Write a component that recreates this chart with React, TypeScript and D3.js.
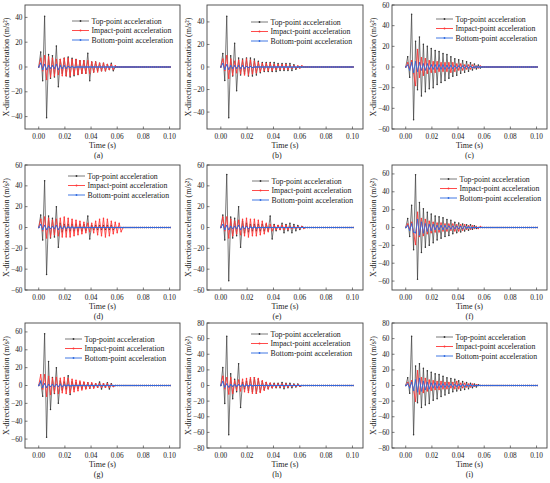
import React from 'react';
import * as d3 from 'd3';

// sample times (s)
const timeS = [
  0, 0.0015, 0.003, 0.0045, 0.006, 0.0075, 0.009, 0.0105, 0.012, 0.0135,
  0.015, 0.0165, 0.018, 0.0195, 0.021, 0.0225, 0.024, 0.0255, 0.027, 0.0285,
  0.03, 0.0315, 0.033, 0.0345, 0.036, 0.0375, 0.039, 0.0405, 0.042, 0.0435,
  0.045, 0.0465, 0.048, 0.0495, 0.051, 0.0525, 0.054, 0.0555, 0.057, 0.0585,
  0.06, 0.0615, 0.063, 0.0645, 0.066, 0.0675, 0.069, 0.0705, 0.072, 0.0735,
  0.075, 0.0765, 0.078, 0.0795, 0.081, 0.0825, 0.084, 0.0855, 0.087, 0.0885,
  0.09, 0.0915, 0.093, 0.0945, 0.096, 0.0975, 0.099, 0.1005,
];

// (a)
const topA = [
  0, 12, -11, 41, -41, 10, -9, 9, -8, 17,
  -16, 6, -5, 7, -7, 8, -8, 7, -7, 6,
  -6, 5, -5, 5, -5, 11, -11, 4, -4, 4,
  -3, 3, -3, 3, -3, 2, -2, 3, -3, 0,
  0, 0, 0, 0, 0, 0, 0, 0, 0, 0,
  0, 0, 0, 0, 0, 0, 0, 0, 0, 0,
  0, 0, 0, 0, 0, 0, 0, 0,
];
const impactA = [
  0, 7, -3, 9, -10, 8, -8, 7, -7, 6,
  -6, 6, -7, 7, -7, 7, -7, 6, -6, 6,
  -6, 5, -5, 5, -5, 5, -5, 4, -4, 4,
  -4, 3, -3, 3, -3, 2, -2, 2, -2, 1,
  0, 0, 0, 0, 0, 0, 0, 0, 0, 0,
  0, 0, 0, 0, 0, 0, 0, 0, 0, 0,
  0, 0, 0, 0, 0, 0, 0, 0,
];
const bottomA = [
  0, 3, -2, 2, -2, 1, -1, 1, -1, 2,
  -2, 1, -1, 1, -1, 0.5, -0.5, 0.5, -0.5, 0,
  0, 0, 0, 0, 0, 0, 0, 0, 0, 0,
  0, 0, 0, 0, 0, 0, 0, 0, 0, 0,
  0, 0, 0, 0, 0, 0, 0, 0, 0, 0,
  0, 0, 0, 0, 0, 0, 0, 0, 0, 0,
  0, 0, 0, 0, 0, 0, 0, 0,
];

// (b)
const topB = [
  0, 12, -12, 45, -45, 10, -8, 21, -21, 8,
  -7, 7, -6, 8, -8, 8, -8, 7, -7, 5,
  -5, 4, -4, 4, -4, 4, -4, 4, -4, 3,
  -3, 3, -3, 3, -3, 3, -3, 2, -2, 0,
  0, 0, 0, 0, 0, 0, 0, 0, 0, 0,
  0, 0, 0, 0, 0, 0, 0, 0, 0, 0,
  0, 0, 0, 0, 0, 0, 0, 0,
];
const impactB = [
  0, 7, -3, 10, -10, 7, -7, 5, -5, 6,
  -6, 6, -7, 7, -7, 6, -6, 5, -5, 4,
  -4, 3, -3, 3, -3, 3, -3, 2, -2, 2,
  -2, 2, -2, 2, -2, 1, -1, 1, -1, 1,
  -1, 1, 0, 0, 0, 0, 0, 0, 0, 0,
  0, 0, 0, 0, 0, 0, 0, 0, 0, 0,
  0, 0, 0, 0, 0, 0, 0, 0,
];
const bottomB = [
  0, 3, -2, 2, -2, 1, -1, 1, -1, 1,
  -1, 1, -1, 0.5, -0.5, 0.5, -0.5, 0, 0, 0,
  0, 0, 0, 0, 0, 0, 0, 0, 0, 0,
  0, 0, 0, 0, 0, 0, 0, 0, 0, 0,
  0, 0, 0, 0, 0, 0, 0, 0, 0, 0,
  0, 0, 0, 0, 0, 0, 0, 0, 0, 0,
  0, 0, 0, 0, 0, 0, 0, 0,
];

// (c)
const topC = [
  0, 10, -10, 51, -51, 25, -22, 29, -28, 22,
  -24, 20, -21, 18, -20, 16, -17, 15, -15, 13,
  -13, 12, -11, 10, -9, 8, -8, 7, -6, 6,
  -5, 5, -4, 4, -3, 3, -2, 2, -1, 0,
  0, 0, 0, 0, 0, 0, 0, 0, 0, 0,
  0, 0, 0, 0, 0, 0, 0, 0, 0, 0,
  0, 0, 0, 0, 0, 0, 0, 0,
];
const impactC = [
  0, 4, -2, 6, -6, -18, 17, -10, 9, -8,
  8, -6, 6, -5, 5, -5, 5, -4, 4, -4,
  4, -4, 4, -5, 4, -4, 3, -3, 3, -3,
  2, -2, 2, -2, 2, -1, 1, -1, 1, 0,
  0, 0, 0, 0, 0, 0, 0, 0, 0, 0,
  0, 0, 0, 0, 0, 0, 0, 0, 0, 0,
  0, 0, 0, 0, 0, 0, 0, 0,
];
const bottomC = [
  0, 2, -3, 4, -5, 5, -4, 4, -3, 3,
  -3, 3, -2, 2, -2, 2, -2, 2, -2, 2,
  -2, 1.5, -1.5, 1.5, -1.5, 1, -1, 1, -1, 1,
  -1, 1, -1, 0.5, -0.5, 0, 0, 0, 0, 0,
  0, 0, 0, 0, 0, 0, 0, 0, 0, 0,
  0, 0, 0, 0, 0, 0, 0, 0, 0, 0,
  0, 0, 0, 0, 0, 0, 0, 0,
];

// (d)
const topD = [
  0, 12, -12, 45, -45, 11, -10, 9, -9, 20,
  -19, 4, -4, 3, -3, 3, -3, 3, -3, 3,
  -3, 3, -3, 3, -3, 11, -11, 2, -2, 2,
  -2, 2, -2, 2, -2, 2, -2, 2, -2, 0,
  0, 0, 0, 0, 0, 0, 0, 0, 0, 0,
  0, 0, 0, 0, 0, 0, 0, 0, 0, 0,
  0, 0, 0, 0, 0, 0, 0, 0,
];
const impactD = [
  0, 8, -3, 10, -10, 9, -9, 7, -7, 8,
  -8, 9, -9, 10, -9, 9, -9, 8, -8, 7,
  -7, 6, -6, 5, -5, 4, -4, 4, -5, 6,
  -7, 8, -8, 9, -9, 8, -8, 6, -6, 5,
  -5, 4, -4, 0, 0, 0, 0, 0, 0, 0,
  0, 0, 0, 0, 0, 0, 0, 0, 0, 0,
  0, 0, 0, 0, 0, 0, 0, 0,
];
const bottomD = [
  0, 3, -2, 2, -2, 1, -1, 1, -1, 2,
  -2, 1, -1, 1, -1, 0.5, -0.5, 0.5, -0.5, 0,
  0, 0, 0, 0, 0, 0, 0, 0, 0, 0,
  0, 0, 0, 0, 0, 0, 0, 0, 0, 0,
  0, 0, 0, 0, 0, 0, 0, 0, 0, 0,
  0, 0, 0, 0, 0, 0, 0, 0, 0, 0,
  0, 0, 0, 0, 0, 0, 0, 0,
];

// (e)
const topE = [
  0, 12, -12, 51, -51, 10, -10, 9, -8, 20,
  -19, 6, -5, 4, -4, 3, -3, 3, -3, 3,
  -3, 3, -3, 3, -3, 11, -11, 3, -3, 2,
  -2, 4, -5, 3, -3, 4, -5, 3, -3, 2,
  -2, 1, 0, 0, 0, 0, 0, 0, 0, 0,
  0, 0, 0, 0, 0, 0, 0, 0, 0, 0,
  0, 0, 0, 0, 0, 0, 0, 0,
];
const impactE = [
  0, 10, -3, 10, -10, 8, -8, 6, -6, 7,
  -7, 8, -8, 9, -9, 8, -8, 8, -8, 7,
  -7, 6, -6, 4, -4, 3, -3, 2, -2, 2,
  -2, 2, -2, 2, -2, 1, -1, 1, -1, 1,
  -1, 1, -1, 0, 0, 0, 0, 0, 0, 0,
  0, 0, 0, 0, 0, 0, 0, 0, 0, 0,
  0, 0, 0, 0, 0, 0, 0, 0,
];
const bottomE = [
  0, 3, -2, 2, -2, 1, -1, 1, -1, 2,
  -2, 1, -1, 1, -1, 0.5, -0.5, 0.5, -0.5, 0,
  0, 0, 0, 0, 0, 0, 0, 0, 0, 0,
  0, 0, 0, 0, 0, 0, 0, 0, 0, 0,
  0, 0, 0, 0, 0, 0, 0, 0, 0, 0,
  0, 0, 0, 0, 0, 0, 0, 0, 0, 0,
  0, 0, 0, 0, 0, 0, 0, 0,
];

// (f)
const topF = [
  0, 10, -10, 25, -25, 59, -58, 28, -28, 21,
  -22, 17, -20, 15, -17, 13, -14, 12, -12, 11,
  -10, 9, -9, 8, -7, 6, -6, 5, -5, 4,
  -4, 3, -3, 3, -2, 2, -1, 0, 0, 0,
  0, 0, 0, 0, 0, 0, 0, 0, 0, 0,
  0, 0, 0, 0, 0, 0, 0, 0, 0, 0,
  0, 0, 0, 0, 0, 0, 0, 0,
];
const impactF = [
  0, 4, -2, 6, -6, -19, 17, -10, 10, -9,
  9, -7, 7, -6, 6, -5, 5, -5, 5, -4,
  4, -4, 4, -3, 4, -4, 3, -4, 3, -3,
  3, -2, 2, -2, 2, -1, 1, -1, 1, 0,
  0, 0, 0, 0, 0, 0, 0, 0, 0, 0,
  0, 0, 0, 0, 0, 0, 0, 0, 0, 0,
  0, 0, 0, 0, 0, 0, 0, 0,
];
const bottomF = [
  0, 2, -3, 4, -5, -6, 9, -8, 6, -6,
  4, -4, 3, -3, 3, -2, 2, -2, 2, -2,
  2, -1.5, 1.5, -1.5, 1.5, -1, 1, -1, 1, -1,
  1, -0.5, 0.5, -0.5, 0, 0, 0, 0, 0, 0,
  0, 0, 0, 0, 0, 0, 0, 0, 0, 0,
  0, 0, 0, 0, 0, 0, 0, 0, 0, 0,
  0, 0, 0, 0, 0, 0, 0, 0,
];

// (g)
const topG = [
  0, 4, -12, 58, -58, 27, -27, 9, -9, 20,
  -20, 5, -5, 4, -4, 11, -10, 4, -4, 3,
  -3, 3, -3, 3, -3, 3, -3, 2, -2, 2,
  -2, 4, -4, 2, -2, 3, -4, 2, -1, 0,
  0, 0, 0, 0, 0, 0, 0, 0, 0, 0,
  0, 0, 0, 0, 0, 0, 0, 0, 0, 0,
  0, 0, 0, 0, 0, 0, 0, 0,
];
const impactG = [
  0, 12, -4, 12, -12, 10, -10, 8, -8, 9,
  -9, 8, -8, 9, -9, 8, -8, 7, -7, 6,
  -6, 5, -5, 4, -4, 3, -3, 3, -3, 2,
  -2, 2, -2, 2, -2, 2, -2, 1, -1, 0,
  0, 0, 0, 0, 0, 0, 0, 0, 0, 0,
  0, 0, 0, 0, 0, 0, 0, 0, 0, 0,
  0, 0, 0, 0, 0, 0, 0, 0,
];
const bottomG = [
  0, 5, -2, 2, -2, 1, -1, 1, -1, 1,
  -1, 1, -1, 0.5, -0.5, 0.5, -0.5, 0, 0, 0,
  0, 0, 0, 0, 0, 0, 0, 0, 0, 0,
  0, 0, 0, 0, 0, 0, 0, 0, 0, 0,
  0, 0, 0, 0, 0, 0, 0, 0, 0, 0,
  0, 0, 0, 0, 0, 0, 0, 0, 0, 0,
  0, 0, 0, 0, 0, 0, 0, 0,
];

// (h)
const topH = [
  0, 23, -23, 63, -63, 15, -17, 8, -8, 28,
  -28, 4, -4, 5, -6, 8, -8, 10, -10, 8,
  -8, 5, -5, 4, -4, 3, -3, 3, -3, 3,
  -3, 4, -4, 3, -3, 3, -3, 2, -2, 2,
  -1, 0, 0, 0, 0, 0, 0, 0, 0, 0,
  0, 0, 0, 0, 0, 0, 0, 0, 0, 0,
  0, 0, 0, 0, 0, 0, 0, 0,
];
const impactH = [
  0, 12, -4, 10, -11, 10, -10, 6, -6, 7,
  -7, 8, -8, 9, -9, 10, -10, 10, -10, 9,
  -9, 6, -6, 4, -4, 3, -3, 2, -2, 2,
  -2, 2, -2, 2, -2, 1, -1, 1, -1, 1,
  -1, 0, 0, 0, 0, 0, 0, 0, 0, 0,
  0, 0, 0, 0, 0, 0, 0, 0, 0, 0,
  0, 0, 0, 0, 0, 0, 0, 0,
];
const bottomH = [
  0, 5, -2, 2, -2, 1, -1, 1, -1, 1,
  -1, 1, -1, 0.5, -0.5, 0.5, -0.5, 0, 0, 0,
  0, 0, 0, 0, 0, 0, 0, 0, 0, 0,
  0, 0, 0, 0, 0, 0, 0, 0, 0, 0,
  0, 0, 0, 0, 0, 0, 0, 0, 0, 0,
  0, 0, 0, 0, 0, 0, 0, 0, 0, 0,
  0, 0, 0, 0, 0, 0, 0, 0,
];

// (i)
const topI = [
  0, 10, -10, 63, -63, 25, -22, 28, -28, 22,
  -25, 19, -23, 17, -19, 15, -17, 14, -14, 12,
  -12, 10, -10, 9, -8, 8, -7, 6, -6, 5,
  -5, 4, -4, 3, -3, 2, -2, 1, 0, 0,
  0, 0, 0, 0, 0, 0, 0, 0, 0, 0,
  0, 0, 0, 0, 0, 0, 0, 0, 0, 0,
  0, 0, 0, 0, 0, 0, 0, 0,
];
const impactI = [
  0, 4, -2, 6, -6, -20, 19, -11, 10, -9,
  9, -7, 7, -6, 6, -5, 5, -5, 5, -4,
  4, -4, 4, -3, 4, -4, 5, -4, 3, -3,
  3, -2, 2, -2, 2, -1, 1, 0, 0, 0,
  0, 0, 0, 0, 0, 0, 0, 0, 0, 0,
  0, 0, 0, 0, 0, 0, 0, 0, 0, 0,
  0, 0, 0, 0, 0, 0, 0, 0,
];
const bottomI = [
  0, 2, -3, 4, -6, 7, -8, 9, -7, 5,
  -5, 4, -4, 3, -3, 3, -3, 2, -2, 2,
  -2, 1.5, -1.5, 1.5, -1.5, 1, -1, 1, -1, 1,
  -1, 0.5, -0.5, 0.5, -0.5, 0, 0, 0, 0, 0,
  0, 0, 0, 0, 0, 0, 0, 0, 0, 0,
  0, 0, 0, 0, 0, 0, 0, 0, 0, 0,
  0, 0, 0, 0, 0, 0, 0, 0,
];

const seriesNames = ['Top-point acceleration', 'Impact-point acceleration', 'Bottom-point acceleration'];
const panelLabels = ['(a)', '(b)', '(c)', '(d)', '(e)', '(f)', '(g)', '(h)', '(i)'];
const panelSeries = [
  [topA, impactA, bottomA],
  [topB, impactB, bottomB],
  [topC, impactC, bottomC],
  [topD, impactD, bottomD],
  [topE, impactE, bottomE],
  [topF, impactF, bottomF],
  [topG, impactG, bottomG],
  [topH, impactH, bottomH],
  [topI, impactI, bottomI],
];
const yLimits = [50, 55, 60, 60, 60, 70, 70, 80, 80];
const yTicks40 = [-40, -20, 0, 20, 40];
const yTicks60 = [-60, -40, -20, 0, 20, 40, 60];
const yTicks80 = [-80, -60, -40, -20, 0, 20, 40, 60, 80];
const panelYTicks = [yTicks40, yTicks40, yTicks60, yTicks60, yTicks60, yTicks60, yTicks60, yTicks80, yTicks80];
const xTicks = [0, 0.02, 0.04, 0.06, 0.08, 0.1];

// layout
const colLeft = [25, 207, 392];
const colRight = [180, 363, 547];
const rowTop = [5, 165, 323];
const rowBottom = [129, 290, 448];
const captionShift = [-4, -8, 0];
const legendTop = [16, 17, 14, 11, 16, 14, 16, 11, 14];
const legendLeft = [47, 44, 44, 43, 45, 48, 40, 44, 44];

const colors = ['#333333', '#ff3838', '#2d6ae0'];
const widths = [0.65, 0.9, 0.9];
const FONT = "'Liberation Serif', 'Times New Roman', serif";

const Panel = ({ idx }: { idx: number }) => {
  const col = idx % 3;
  const row = Math.floor(idx / 3);
  const left = colLeft[col];
  const right = colRight[col];
  const top = rowTop[row];
  const bottom = rowBottom[row];
  const lim = yLimits[idx];

  const x = d3.scaleLinear().domain([-0.0105, 0.108]).range([left, right]);
  const y = d3.scaleLinear().domain([-lim, lim]).range([bottom, top]);
  const line = d3
    .line<number>()
    .x((_, i) => x(timeS[i]))
    .y((d) => y(d));

  const fmtX = d3.format('.2f');
  const fmtY = d3.format('d');
  const clipId = `clip-${idx}`;
  const lx = left + legendLeft[idx];
  const ly = top + legendTop[idx];

  return (
    <g fontFamily={FONT}>
      <defs>
        <clipPath id={clipId}>
          <rect x={left} y={top} width={right - left} height={bottom - top} />
        </clipPath>
      </defs>
      <g clipPath={`url(#${clipId})`}>
        {panelSeries[idx].map((s, k) => (
          <g key={k}>
            <path d={line(s) || ''} fill="none" stroke={colors[k]} strokeWidth={widths[k]} />
            {s.map((v, i) => (
              <circle key={i} cx={x(timeS[i])} cy={y(v)} r={0.75} fill={colors[k]} />
            ))}
          </g>
        ))}
      </g>
      <rect x={left} y={top} width={right - left} height={bottom - top} fill="none" stroke="#444" strokeWidth={0.9} />
      {xTicks.map((t) => (
        <g key={t}>
          <line x1={x(t)} x2={x(t)} y1={bottom} y2={bottom - 2.5} stroke="#444" strokeWidth={0.7} />
          <text x={x(t)} y={bottom + 9.5} fontSize={7.3} textAnchor="middle" fill="#222">
            {fmtX(t)}
          </text>
        </g>
      ))}
      {panelYTicks[idx].map((t) => (
        <g key={t}>
          <line x1={left} x2={left + 2.5} y1={y(t)} y2={y(t)} stroke="#444" strokeWidth={0.7} />
          <text x={left - 2.5} y={y(t)} dy="0.35em" fontSize={7.3} textAnchor="end" fill="#222">
            {fmtY(t)}
          </text>
        </g>
      ))}
      <text x={(left + right) / 2} y={bottom + 19} fontSize={8} textAnchor="middle" fill="#222">
        Time (s)
      </text>
      <text x={(left + right) / 2 + captionShift[col]} y={bottom + 29} fontSize={8} textAnchor="middle" fill="#222">
        {panelLabels[idx]}
      </text>
      <text
        transform={`translate(${left - 19},${(top + bottom) / 2}) rotate(-90)`}
        fontSize={8}
        textAnchor="middle"
        dy="0.35em"
        fill="#222"
      >
        X-direction acceleration (m/s²)
      </text>
      {seriesNames.map((name, k) => (
        <g key={name} transform={`translate(${lx},${ly + k * 9.5})`}>
          <line x1={0} x2={17} y1={0} y2={0} stroke={colors[k]} strokeWidth={widths[k]} />
          <circle cx={8.5} cy={0} r={0.9} fill={colors[k]} />
          <text x={19.5} y={0} dy="0.35em" fontSize={7.8} fill="#222">
            {name}
          </text>
        </g>
      ))}
    </g>
  );
};

const App = () => {
  return (
    <svg width={550} height={483} style={{ position: 'absolute', left: 0, top: 0, background: '#fff' }}>
      {panelLabels.map((_, i) => (
        <Panel key={i} idx={i} />
      ))}
    </svg>
  );
};

export default App;
